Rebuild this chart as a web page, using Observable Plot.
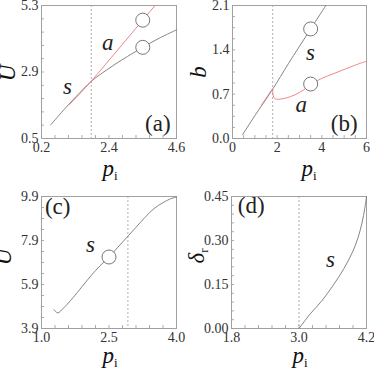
<!DOCTYPE html>
<html><head><meta charset="utf-8">
<script src="https://cdn.jsdelivr.net/npm/d3@7"></script>
<script src="https://cdn.jsdelivr.net/npm/@observablehq/plot@0.6"></script>
<style>
body{margin:0;background:#fff;}
#root{position:relative;width:374px;height:369px;overflow:hidden;background:#fff;}
.panel{position:absolute;}
svg text{font-family:"Liberation Serif","Times New Roman",serif !important;}
</style></head><body><div id="root"></div>
<script>
// ---------- Panel (a): U vs p_i ----------
const aXTicks = [0.2, 2.4, 4.6], aXLabels = ["0.2", "2.4", "4.6"];
const aYTicks = [0.5, 2.9, 5.3], aYLabels = ["0.5", "2.9", "5.3"];
const aSx = [0.5, 0.9, 1.3, 1.82, 2.2, 2.6, 3.0, 3.5, 4.0, 4.6];
const aSy = [0.99, 1.50, 1.98, 2.56, 2.88, 3.18, 3.46, 3.79, 4.10, 4.42];
const aAx = [1.1, 1.4, 1.82, 3.5, 3.9];
const aAy = [1.72, 2.06, 2.56, 4.77, 5.3];
const aCircX = [3.5, 3.5], aCircY = [4.77, 3.79];
const aDash = [1.82];

// ---------- Panel (b): b vs p_i ----------
const bXTicks = [0, 2, 4, 6], bXLabels = ["0", "2", "4", "6"];
const bYTicks = [0.0, 0.7, 1.4, 2.1], bYLabels = ["0.0", "0.7", "1.4", "2.1"];
const bSx = [0.45, 1.0, 1.8, 2.5, 3.5, 4.18];
const bSy = [0.06, 0.36, 0.78, 1.18, 1.73, 2.1];
const bAx = [1.3, 1.55, 1.78, 1.81, 1.85, 1.92, 2.05, 2.4, 2.8, 3.2, 3.5, 4.0, 4.5, 5.0, 5.5, 6.0];
const bAy = [0.53, 0.66, 0.77, 0.70, 0.65, 0.625, 0.62, 0.64, 0.69, 0.77, 0.85, 0.95, 1.02, 1.09, 1.16, 1.22];
const bCircX = [3.5, 3.5], bCircY = [1.73, 0.86];
const bDash = [1.8];

// ---------- Panel (c): U vs p_i ----------
const cXTicks = [1.0, 2.5, 4.0], cXLabels = ["1.0", "2.5", "4.0"];
const cYTicks = [3.9, 5.9, 7.9, 9.9], cYLabels = ["3.9", "5.9", "7.9", "9.9"];
const cSx = [1.28, 1.36, 1.5, 1.7, 1.9, 2.1, 2.3, 2.5, 2.7, 2.9, 3.1, 3.3, 3.5, 3.7, 3.85, 4.0];
const cSy = [4.75, 4.61, 4.85, 5.30, 5.80, 6.30, 6.75, 7.15, 7.60, 8.05, 8.50, 8.95, 9.35, 9.62, 9.78, 9.88];
const cCircX = [2.5], cCircY = [7.15];
const cDash = [2.92];

// ---------- Panel (d): delta_r vs p_i ----------
const dXTicks = [1.8, 3.0, 4.2], dXLabels = ["1.8", "3.0", "4.2"];
const dYTicks = [0, 0.15, 0.30, 0.45], dYLabels = ["0.00", "0.15", "0.30", "0.45"];
const dSx = [3.0, 3.2, 3.4, 3.6, 3.8, 3.95, 4.05, 4.12, 4.17, 4.2];
const dSy = [0.0, 0.05, 0.093, 0.145, 0.205, 0.26, 0.31, 0.36, 0.41, 0.45];
const dDash = [3.0];

const SERIF = "Liberation Serif";
const GRAY = "#777", RED = "#f07878", FRAME = "#a0a0a0";

const pts = (xs, ys) => xs.map((x, i) => ({x, y: ys[i]}));

function panel(cfg) {
  const {left, top, width, height, ml, mr, mt, mb} = cfg;
  const innerW = width - ml - mr, innerH = height - mt - mb;
  const xMinor = d3.range(cfg.xDomain[0], cfg.xDomain[1] + 1e-9, cfg.xMinorStep);
  const yMinor = d3.range(cfg.yDomain[0], cfg.yDomain[1] + 1e-9, cfg.yMinorStep);
  const marks = [
    Plot.ruleX(cfg.dash, {stroke: "#999", strokeWidth: 0.8, strokeDasharray: "2,2"}),
    Plot.ruleX(xMinor, {stroke: "#888", strokeWidth: 0.7, insetTop: innerH - 3}),
    Plot.ruleY(yMinor, {stroke: "#888", strokeWidth: 0.7, insetRight: innerW - 3}),
    Plot.frame({stroke: FRAME, strokeWidth: 1}),
    Plot.axisX(cfg.xTicks, {tickSize: 0, tickPadding: 4, fontSize: 14, fontFamily: SERIF, color: "#333",
      tickFormat: d => cfg.xLabels[cfg.xTicks.indexOf(d)]}),
    Plot.axisY(cfg.yTicks, {tickSize: 0, tickPadding: 3, fontSize: 14, fontFamily: SERIF, color: "#333",
      tickFormat: d => cfg.yLabels[cfg.yTicks.indexOf(d)]}),
    ...cfg.lines.map(l => Plot.line(l.data, {x: "x", y: "y", stroke: l.color, strokeWidth: 0.9, curve: l.curve || "catmull-rom"})),
    ...(cfg.circles ? [Plot.dot(cfg.circles, {x: "x", y: "y", r: 7, fill: "white", stroke: "#777", strokeWidth: 1})] : []),
    ...cfg.texts.map(t => Plot.text([t], {x: "x", y: "y", text: "t", fontSize: t.size, fontFamily: SERIF,
      fontStyle: t.italic ? "italic" : "normal", fill: "#222"}))
  ];
  const svg = Plot.plot({
    width, height, marginLeft: ml, marginRight: mr, marginTop: mt, marginBottom: mb,
    x: {domain: cfg.xDomain, label: null, axis: null},
    y: {domain: cfg.yDomain, label: null, axis: null},
    style: {background: "transparent", overflow: "visible", fontFamily: SERIF},
    marks
  });
  const s = d3.select(svg);
  const xl = s.append("text").attr("x", cfg.xLabelX).attr("y", cfg.xLabelY)
    .attr("text-anchor", "middle").attr("font-family", SERIF).attr("fill", "#111");
  xl.append("tspan").attr("font-style", "italic").attr("font-size", 23).text("p");
  xl.append("tspan").attr("font-size", 13).attr("dy", 4).text("i");
  const yl = s.append("text").attr("transform", `translate(${cfg.yLabelX},${cfg.yLabelY}) rotate(-90)`)
    .attr("text-anchor", "middle").attr("font-family", SERIF).attr("fill", "#111");
  yl.append("tspan").attr("font-style", "italic").attr("font-size", 23).text(cfg.yName);
  if (cfg.ySub) yl.append("tspan").attr("font-size", 13).attr("dy", 4).text(cfg.ySub);
  const div = document.createElement("div");
  div.className = "panel";
  div.style.left = left + "px"; div.style.top = top + "px";
  div.appendChild(svg);
  document.getElementById("root").appendChild(div);
}

panel({
  left: 0, top: 0, width: 187, height: 184, ml: 41, mr: 11, mt: 5, mb: 46,
  xDomain: [0.2, 4.6], yDomain: [0.5, 5.3], xMinorStep: 0.44, yMinorStep: 0.48,
  xTicks: aXTicks, xLabels: aXLabels, yTicks: aYTicks, yLabels: aYLabels, dash: aDash,
  lines: [{data: pts(aSx, aSy), color: GRAY}, {data: pts(aAx, aAy), color: RED, curve: "linear"}],
  circles: pts(aCircX, aCircY),
  texts: [{x: 2.36, y: 3.97, t: "a", size: 23, italic: true}, {x: 1.05, y: 2.38, t: "s", size: 23, italic: true},
          {x: 3.99, y: 1.05, t: "(a)", size: 23}],
  xLabelX: 110, xLabelY: 176, yLabelX: 15, yLabelY: 73, yName: "U"
});
panel({
  left: 187, top: 0, width: 187, height: 184, ml: 45, mr: 8, mt: 5, mb: 46,
  xDomain: [0, 6], yDomain: [0, 2.1], xMinorStep: 0.5, yMinorStep: 0.175,
  xTicks: bXTicks, xLabels: bXLabels, yTicks: bYTicks, yLabels: bYLabels, dash: bDash,
  lines: [{data: pts(bSx, bSy), color: GRAY}, {data: pts(bAx, bAy), color: RED}],
  circles: pts(bCircX, bCircY),
  texts: [{x: 3.49, y: 1.35, t: "s", size: 23, italic: true}, {x: 3.08, y: 0.53, t: "a", size: 23, italic: true},
          {x: 5.0, y: 0.24, t: "(b)", size: 23}],
  xLabelX: 122, xLabelY: 176, yLabelX: 19, yLabelY: 72, yName: "b"
});
panel({
  left: 0, top: 184, width: 187, height: 185, ml: 41, mr: 11, mt: 12, mb: 41,
  xDomain: [1.0, 4.0], yDomain: [3.9, 9.9], xMinorStep: 0.3, yMinorStep: 0.5,
  xTicks: cXTicks, xLabels: cXLabels, yTicks: cYTicks, yLabels: cYLabels, dash: cDash,
  lines: [{data: pts(cSx, cSy), color: GRAY}],
  circles: pts(cCircX, cCircY),
  texts: [{x: 2.09, y: 7.73, t: "s", size: 23, italic: true}, {x: 1.36, y: 9.46, t: "(c)", size: 23}],
  xLabelX: 110, xLabelY: 179, yLabelX: 11, yLabelY: 73, yName: "U"
});
panel({
  left: 187, top: 184, width: 187, height: 185, ml: 44, mr: 8, mt: 12, mb: 41,
  xDomain: [1.8, 4.2], yDomain: [0, 0.45], xMinorStep: 0.24, yMinorStep: 0.03,
  xTicks: dXTicks, xLabels: dXLabels, yTicks: dYTicks, yLabels: dYLabels, dash: dDash,
  lines: [{data: pts(dSx, dSy), color: GRAY}],
  texts: [{x: 3.56, y: 0.235, t: "s", size: 23, italic: true}, {x: 2.15, y: 0.42, t: "(d)", size: 23}],
  xLabelX: 113, xLabelY: 179, yLabelX: 17, yLabelY: 72, yName: "δ", ySub: "r"
});
</script></body></html>
